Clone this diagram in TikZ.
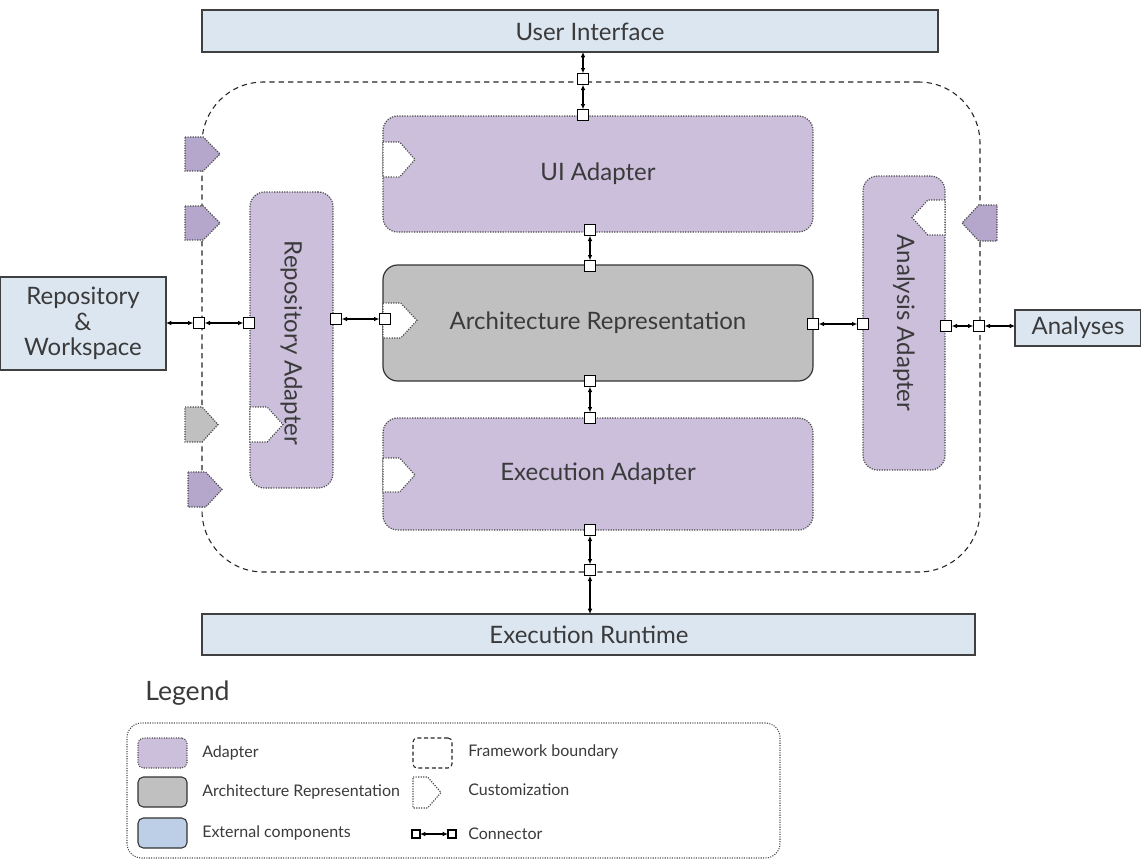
\documentclass[tikz,border=0pt]{standalone}
\usepackage{fontspec}
\setmainfont{Lato}
\usetikzlibrary{arrows.meta}

\definecolor{adapterfill}{HTML}{CBBFDC}
\definecolor{archfill}{HTML}{C0C0C0}
\definecolor{extfill}{HTML}{DCE6F1}
\definecolor{extlegend}{HTML}{BCCFE6}
\definecolor{custfill}{HTML}{B5A6CC}
\definecolor{inkgray}{HTML}{3A3A3A}
\definecolor{edgegray}{HTML}{4A4A4A}

\tikzset{
  box/.style={inner sep=0pt, outer sep=0pt, text=inkgray, font=\fontsize{18}{21}\selectfont},
  adapter/.style={box, fill=adapterfill, draw=edgegray, densely dotted, line width=0.9pt, rounded corners=11pt},
  archbox/.style={box, fill=archfill, draw=black!80, line width=0.9pt, rounded corners=11pt},
  extbox/.style={box, fill=extfill, draw=black!75, line width=0.9pt},
  boundarybox/.style={inner sep=0pt, outer sep=0pt, draw=black!85, dash pattern=on 4pt off 3pt, line width=0.8pt, rounded corners=46pt},
  port/.style={draw=black, fill=white, line width=0.9pt, minimum size=8.5pt, inner sep=0pt, outer sep=0pt},
  conn/.style={{Latex[length=4pt,width=3.5pt]}-{Latex[length=4pt,width=3.5pt]}, line width=0.8pt, black},
  custom/.style={fill=custfill, draw=edgegray, densely dotted, line width=0.9pt},
  customgray/.style={fill=archfill, draw=edgegray, densely dotted, line width=0.9pt},
  customwhite/.style={fill=white, draw=edgegray, densely dotted, line width=0.9pt},
  legendtext/.style={anchor=west, inner sep=0pt, text=inkgray, font=\fontsize{12}{14}\selectfont},
}

% customization pentagon pointing right: x1 y1 x2 y2 style
\newcommand\custR[5]{%
  \path[#5] (#1,#2) -- ({#1+0.52*(#3-#1)},#2) -- (#3,{(#2+#4)/2}) -- ({#1+0.52*(#3-#1)},#4) -- (#1,#4) -- cycle;}
% customization pentagon pointing left: x1 (tip) y1 x2 y2 style
\newcommand\custL[5]{%
  \path[#5] (#3,#2) -- ({#3-0.52*(#3-#1)},#2) -- (#1,{(#2+#4)/2}) -- ({#3-0.52*(#3-#1)},#4) -- (#3,#4) -- cycle;}

\begin{document}
\begin{tikzpicture}[x=0.75pt,y=-0.75pt]
\useasboundingbox (0,0) rectangle (1141,861);

% external components
\node[extbox, minimum width=552pt, minimum height=31.5pt] (ui) at (570,31) {};
\node[box] (uiText) at (590,32) {User Interface};
\node[extbox, minimum width=579.75pt, minimum height=30.75pt] (runtime) at (588.5,634.5) {};
\node[box] (runtimeText) at (589,635) {Execution Runtime};
\node[extbox, minimum width=124.5pt, minimum height=69.75pt, align=center, font=\fontsize{18}{19}\selectfont] (repo) at (83,323.5)
  {Repository\\\&\\Workspace};
\node[extbox, minimum width=94.5pt, minimum height=27pt] (analyses) at (1078,328) {Analyses};

% framework boundary
\node[boundarybox, minimum width=583.5pt, minimum height=367.5pt] (boundary) at (591,327) {};

% adapters and the architecture representation
\node[adapter, minimum width=322.5pt, minimum height=87pt] (uiad) at (598,174) {UI Adapter};
\node[archbox, minimum width=322.5pt, minimum height=87pt] (arch) at (598,323) {Architecture Representation};
\node[adapter, minimum width=322.5pt, minimum height=84pt] (execad) at (598,474) {Execution Adapter};
\node[adapter, minimum width=62.25pt, minimum height=222pt] (repoad) at (291.5,340) {};
\node[box, rotate=-90] (repoadText) at (291.5,343) {Repository Adapter};
\node[adapter, minimum width=61.5pt, minimum height=220.5pt] (anaad) at (904,323) {};
\node[box, rotate=-90] (anaadText) at (904,323) {Analysis Adapter};

% customization points on the framework boundary
\custR{185}{137}{220}{171}{custom}
\custR{185}{206}{220}{240}{custom}
\custR{185}{407}{218}{442}{customgray}
\custR{188}{472}{222}{507}{custom}
\custL{962}{205}{997}{241}{custom}

% customization points inside the components
\custR{383}{142}{415}{177}{customwhite}
\custR{383}{303}{417}{338}{customwhite}
\custR{383}{458}{415}{492}{customwhite}
\custR{250}{407}{283}{442}{customwhite}
\custL{912}{200}{945}{235}{customwhite}

% connector ports
\node[port] (pTop) at (583,79) {};
\node[port] (pUiTop) at (583,115) {};
\node[port] (pUiBot) at (590,230) {};
\node[port] (pArchTop) at (590,266) {};
\node[port] (pArchBot) at (590,381) {};
\node[port] (pExecTop) at (590,418) {};
\node[port] (pExecBot) at (590,530) {};
\node[port] (pBot) at (590,570) {};
\node[port] (pLeft) at (199,323) {};
\node[port] (pRepoL) at (249,323) {};
\node[port] (pRepoR) at (336,319) {};
\node[port] (pArchL) at (385,319) {};
\node[port] (pArchR) at (813,324) {};
\node[port] (pAnaL) at (863,324) {};
\node[port] (pAnaR) at (946,326) {};
\node[port] (pRight) at (979,326) {};

% connectors
\draw[conn] (ui.south -| pTop) -- (pTop);
\draw[conn] (pTop) -- (pUiTop);
\draw[conn] (pUiBot) -- (pArchTop);
\draw[conn] (pArchBot) -- (pExecTop);
\draw[conn] (pExecBot) -- (pBot);
\draw[conn] (pBot) -- (runtime.north -| pBot);
\draw[conn] (repo.east |- pLeft) -- (pLeft);
\draw[conn] (pLeft) -- (pRepoL);
\draw[conn] (pRepoR) -- (pArchL);
\draw[conn] (pArchR) -- (pAnaL);
\draw[conn] (pAnaR) -- (pRight);
\draw[conn] (pRight) -- (analyses.west |- pRight);

% legend
\node[anchor=west, inner sep=0pt, text=inkgray, font=\fontsize{20}{22}\selectfont] (legendTitle) at (145,693) {Legend};
\node[inner sep=0pt, outer sep=0pt, draw=edgegray, densely dotted, line width=0.8pt, rounded corners=11pt,
      minimum width=489.75pt, minimum height=101.25pt] (legend) at (453.5,790.5) {};

\node[inner sep=0pt, fill=adapterfill, draw=edgegray, densely dotted, line width=0.8pt, rounded corners=4pt,
      minimum width=36.75pt, minimum height=22.5pt] (swAdapter) at (162.5,753) {};
\node[legendtext] (ltAdapter) at (202,753) {Adapter};
\node[inner sep=0pt, fill=archfill, draw=black!80, line width=0.8pt, rounded corners=4pt,
      minimum width=36.75pt, minimum height=22.5pt] (swArch) at (162.5,792) {};
\node[legendtext] (ltArch) at (202,792) {Architecture Representation};
\node[inner sep=0pt, fill=extlegend, draw=black!80, line width=0.8pt, rounded corners=4pt,
      minimum width=36.75pt, minimum height=22.5pt] (swExt) at (162.5,833) {};
\node[legendtext] (ltExt) at (202,833) {External components};

\node[inner sep=0pt, draw=black!85, dash pattern=on 3pt off 2pt, line width=0.8pt, rounded corners=3pt,
      minimum width=29.25pt, minimum height=22.5pt] (swBoundary) at (432.5,753) {};
\node[legendtext] (ltBoundary) at (468,752) {Framework boundary};
\custR{413}{777}{441}{808}{customwhite}
\node[legendtext] (ltCustom) at (468,790) {Customization};
\node[port, minimum size=6pt] (lpA) at (416,834) {};
\node[port, minimum size=6pt] (lpB) at (452,834) {};
\draw[conn] (lpA) -- (lpB);
\node[legendtext] (ltConn) at (468,834) {Connector};
\end{tikzpicture}
\end{document}
